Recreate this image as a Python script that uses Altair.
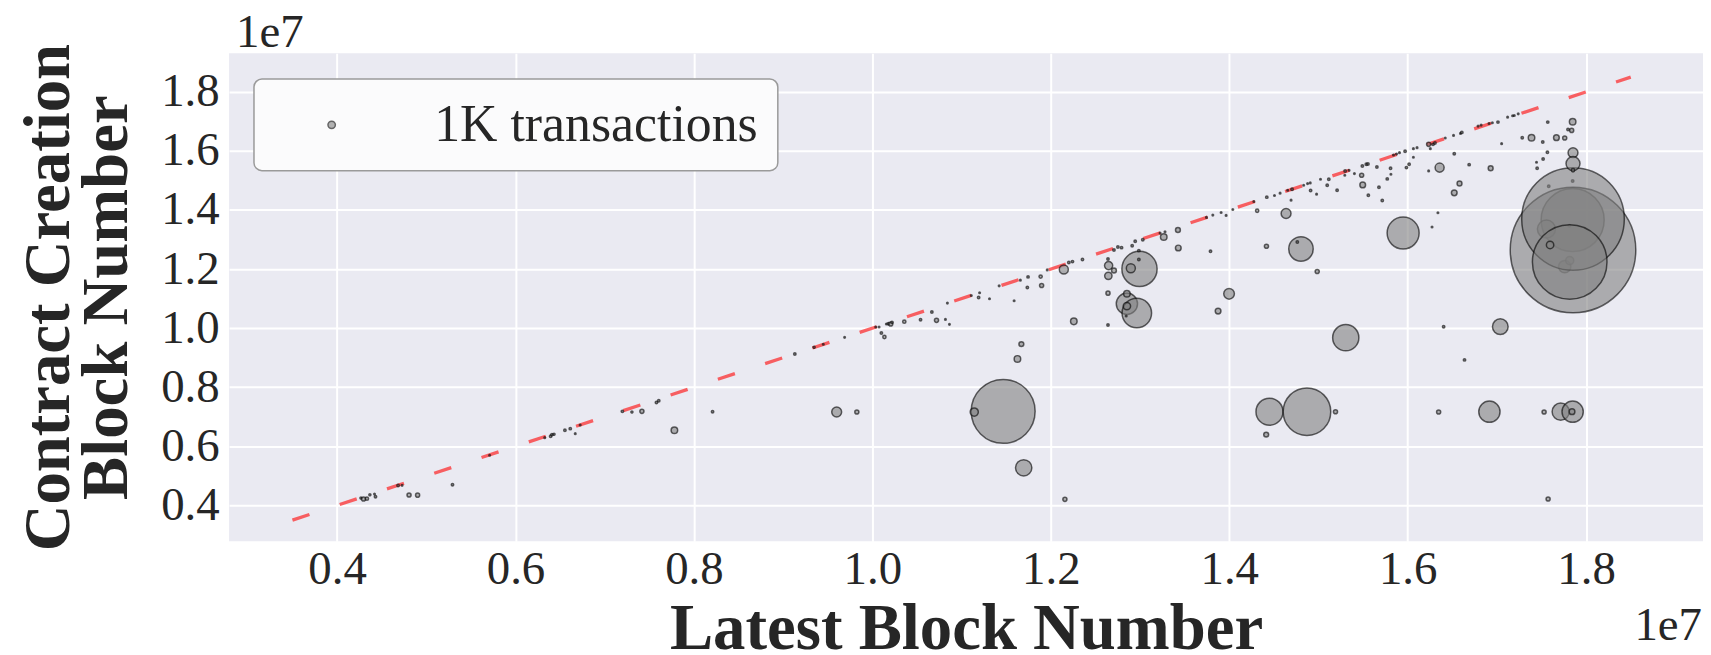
import altair as alt
import pandas as pd

# values in units of 1e7 blocks; tx in thousands of transactions
latest = [
    0.4268, 0.4297, 0.4335, 0.4368, 0.4420, 0.4431, 0.4684, 0.4729, 0.4807, 0.4903,
    0.5294, 0.5710, 0.6328, 0.6394, 0.6409, 0.6432, 0.6554, 0.6614, 0.6670, 0.6725,
    0.7198, 0.7305, 0.7417, 0.7580, 0.7606, 0.7781, 0.8209, 0.9131, 0.9347, 0.9450,
    0.9600, 0.9826, 0.9689, 1.0038, 1.0075, 1.0101, 1.0135, 1.0157, 1.0180, 1.0206,
    1.0220, 1.0358, 1.0540, 1.0667, 1.0719, 1.0819, 1.0864, 1.0841, 1.1109, 1.1191,
    1.1202, 1.1313, 1.1421, 1.1589, 1.1659, 1.1466, 1.1142, 1.1670, 1.1626, 1.1696,
    1.2158, 1.1737, 1.1745, 1.1886, 1.1897, 1.1960, 1.2146, 1.2202, 1.2243, 1.2258,
    1.2355, 1.2641, 1.2648, 1.2645, 1.2708, 1.2641, 1.2641, 1.2708, 1.2752, 1.2793,
    1.2853, 1.2964, 1.2853, 1.2853, 1.2845, 1.2994, 1.2897, 1.2912, 1.2946, 1.2987,
    1.2987, 1.3031, 1.3266, 1.3225, 1.3280, 1.3425, 1.3429, 1.3745, 1.3816, 1.3909,
    1.3965, 1.4040, 1.3790, 1.3875, 1.3998,
    1.4313, 1.4637, 1.4417, 1.4804, 1.4763, 1.4986, 1.4276, 1.4421, 1.4507, 1.4570,
    1.4693, 1.4704, 1.4655, 1.4834, 1.4878, 1.4908, 1.4912, 1.4979, 1.5023, 1.5116,
    1.5098, 1.5209, 1.5299, 1.5343, 1.5403, 1.5295, 1.5484, 1.5496, 1.5559, 1.5492,
    1.5536, 1.5555, 1.5655, 1.5678, 1.5715, 1.5771, 1.5808, 1.5812, 1.5841, 1.5875,
    1.5908, 1.5971, 1.5986, 1.6016, 1.6064, 1.6064, 1.6105, 1.5949, 1.6235, 1.6284,
    1.6306, 1.6235, 1.6254, 1.6358, 1.6339, 1.6273, 1.6421, 1.6514, 1.6592, 1.6607,
    1.6522, 1.6581, 1.6522, 1.6689, 1.6789, 1.6823, 1.6912, 1.6949, 1.7012, 1.6930,
    1.7053, 1.7120, 1.7176, 1.7195, 1.7239, 1.7284, 1.7388, 1.7514, 1.7570, 1.7566,
    1.7518, 1.7444, 1.7451, 1.7667, 1.7760, 1.7849, 1.7797, 1.7838,
    1.7849, 1.7555, 1.7760, 1.7816, 1.7812, 1.7581, 1.7849, 1.7853, 1.7853, 1.7816,
    1.7596, 1.7853, 1.7853, 1.7853,
    1.5306, 1.4451, 1.4871, 1.5191, 1.4414, 1.6403, 1.6637, 1.7038, 1.6347, 1.6916,
    1.7529, 1.7715, 1.7849, 1.7842, 1.7574,
]
creation = [
    0.4250, 0.4215, 0.4226, 0.4361, 0.4384, 0.4293, 0.4676, 0.4679, 0.4350, 0.4347,
    0.4698, 0.5699, 0.6294, 0.6340, 0.6396, 0.6407, 0.6542, 0.6598, 0.6429, 0.6722,
    0.7183, 0.7161, 0.7183, 0.7486, 0.7542, 0.6542, 0.7171, 0.9128, 0.9352, 0.9454,
    0.7160, 0.7160, 0.9690, 1.0039, 1.0039, 0.9836, 0.9701, 1.0140, 1.0151, 1.0140,
    1.0196, 1.0219, 1.0286, 1.0545, 1.0264, 1.0297, 1.0129, 1.0848, 1.1107, 1.1039,
    1.1197, 1.0994, 1.1433, 1.0927, 1.1624, 0.7183, 0.7160, 0.9460, 0.8959, 0.5272,
    0.4204, 1.1377, 1.1736, 1.1747, 1.1444, 1.1972, 1.1984, 1.2220, 1.2253, 1.0230,
    1.2321, 1.2343, 1.2119, 1.1770, 1.1950, 1.1185, 1.0106, 1.2647, 1.2748, 1.2726,
    1.0826, 1.0511, 1.1163, 1.0747, 1.0410, 1.2006, 1.2029, 1.2793, 1.2939, 1.2624,
    1.2321, 1.2995, 1.3085, 1.3220, 1.3265, 1.3321, 1.2714, 1.3749, 1.3827, 1.3917,
    1.3816, 1.4018, 1.2602, 1.0578, 1.1163,
    1.3974, 1.3884, 1.2771, 1.2681, 1.2917, 1.1916, 1.4288, 1.4435, 1.4491, 1.4570,
    1.4333, 1.4704, 1.4670, 1.4839, 1.4895, 1.4918, 1.4659, 1.4536, 1.5042, 1.5042,
    1.4839, 1.4670, 1.5323, 1.5345, 1.5233, 1.5176, 1.5176, 1.4850, 1.4502, 1.5491,
    1.5548, 1.5559, 1.5458, 1.4772, 1.4322, 1.5053, 1.5413, 1.5210, 1.5862, 1.5896,
    1.5941, 1.5986, 1.5435, 1.5548, 1.5784, 1.6076, 1.6110, 1.3220, 1.6222, 1.6222,
    1.6267, 1.5323, 1.6076, 1.5435, 1.3906, 1.3423, 1.6436, 1.6526, 1.6593, 1.6627,
    1.5907, 1.4895, 1.4581, 1.5536, 1.6840, 1.6874, 1.6930, 1.6953, 1.6975, 1.5413,
    1.6245, 1.7144, 1.7189, 1.7200, 1.7256, 1.6447, 1.6447, 1.6301, 1.6975, 1.5952,
    1.5727, 1.5615, 1.5413, 1.6447, 1.6436, 1.6986, 1.6728, 1.6694,
    1.3659, 1.3355, 1.2084, 1.2287, 1.3468, 1.4806, 1.4985, 1.2647, 1.3693, 1.2242,
    1.2816, 1.5941, 1.5570, 1.5345,
    0.9679, 0.7172, 0.7172, 0.7172, 0.6396, 1.0050, 0.8926, 1.0050, 0.7161, 0.7172,
    0.7161, 0.7172, 0.7172, 0.7172, 0.4215,
]
transactions_k = [
    0.08, 0.31, 0.20, 0.08, 0.05, 0.11, 0.11, 0.05, 0.31, 0.31,
    0.11, 0.05, 0.05, 0.11, 0.11, 0.08, 0.11, 0.11, 0.05, 0.05,
    0.11, 0.08, 0.31, 0.11, 0.11, 0.79, 0.11, 0.11, 0.08, 0.05,
    1.80, 0.31, 0.05, 0.05, 0.05, 0.11, 0.20, 0.05, 0.11, 0.31,
    0.11, 0.20, 0.11, 0.11, 0.31, 0.05, 0.05, 0.05, 0.05, 0.11,
    0.05, 0.05, 0.05, 0.05, 0.05, 75.0, 1.23, 0.44, 0.79, 4.90,
    0.31, 0.11, 0.11, 0.20, 0.31, 0.05, 1.50, 0.11, 0.11, 0.79,
    0.11, 0.11, 1.23, 1.00, 0.44, 0.31, 0.11, 0.11, 0.11, 0.11,
    8.30, 16.0, 0.79, 1.00, 0.05, 22.8, 1.50, 0.11, 0.11, 0.11,
    0.11, 0.11, 0.79, 0.05, 0.05, 0.44, 0.60, 0.05, 0.05, 0.05,
    0.05, 0.05, 0.11, 0.60, 2.10,
    0.20, 1.80, 0.31, 11.0, 0.11, 0.31, 0.05, 0.11, 0.05, 0.05,
    0.05, 0.11, 0.05, 0.05, 0.05, 0.05, 0.11, 0.05, 0.05, 0.11,
    0.11, 0.11, 0.11, 0.05, 0.05, 0.05, 0.31, 0.60, 0.11, 0.11,
    0.11, 0.11, 0.11, 0.11, 0.11, 0.11, 0.11, 0.05, 0.05, 0.05,
    0.05, 0.11, 0.11, 0.11, 0.05, 0.05, 0.05, 18.8, 0.31, 0.11,
    0.11, 0.05, 0.05, 1.50, 0.05, 0.05, 0.05, 0.05, 0.05, 0.11,
    0.11, 0.44, 0.60, 0.11, 0.05, 0.05, 0.05, 0.05, 0.11, 0.44,
    0.05, 0.05, 0.05, 0.05, 0.05, 0.11, 0.79, 0.11, 0.11, 0.11,
    0.11, 0.05, 0.11, 0.60, 0.31, 0.79, 0.11, 0.31,
    73.0, 6.00, 2.80, 1.20, 0.11, 0.11, 0.11, 289.0, 193.0, 102.0,
    1.00, 1.80, 3.60, 0.20,
    12.6, 13.4, 41.5, 0.31, 0.44, 0.11, 0.11, 4.50, 0.31, 8.30,
    0.31, 5.40, 8.30, 0.60, 0.31,
]
diag_ends = [0.35, 1.85]
tick_values = [0.4, 0.6, 0.8, 1.0, 1.2, 1.4, 1.6, 1.8]
axis_domain = [0.279, 1.931]
legend_label = "1K transactions"
multiplier = "1e7"
E7 = 1e7

df = pd.DataFrame({
    "latest": [v * E7 for v in latest],
    "creation": [v * E7 for v in creation],
    "tx": transactions_k,
    "series": legend_label,
})
line_df = pd.DataFrame({"latest": [v * E7 for v in diag_ends],
                        "creation": [v * E7 for v in diag_ends]})
mult_df = pd.DataFrame({"t": [multiplier]})

FONT = "Liberation Serif"
TXT = "#262626"
label_expr = "format(datum.value / 1e7, '.1f')"
ticks = [v * E7 for v in tick_values]
dom = [v * E7 for v in axis_domain]

xs = alt.Scale(domain=dom, nice=False, zero=False)
ys = alt.Scale(domain=dom, nice=False, zero=False)

x_axis = alt.Axis(values=ticks, labelExpr=label_expr, labelPadding=6,
                  title="Latest Block Number", titleY=108, titleBaseline="alphabetic")
y_axis = alt.Axis(values=ticks, labelExpr=label_expr, labelPadding=10,
                  title=["Contract Creation", "Block Number"], titleAngle=270,
                  titleX=-161, titleY=245, titleBaseline="alphabetic",
                  titleAlign="center", titleLineHeight=58)

diag = alt.Chart(line_df).mark_line(color="red", opacity=0.6, strokeWidth=3.3,
                                    strokeDash=[18, 32]).encode(
    x=alt.X("latest:Q", scale=xs, axis=x_axis),
    y=alt.Y("creation:Q", scale=ys, axis=y_axis),
)

pts = alt.Chart(df).mark_circle(fillOpacity=0.6, stroke="black", strokeOpacity=0.6,
                                strokeWidth=1.5).encode(
    x=alt.X("latest:Q", scale=xs, axis=x_axis),
    y=alt.Y("creation:Q", scale=ys, axis=y_axis),
    size=alt.Size("tx:Q", scale=alt.Scale(domain=[0, 300], range=[0, 16500]), legend=None),
    color=alt.Color("series:N", scale=alt.Scale(domain=[legend_label], range=["gray"]),
                    legend=alt.Legend(title=None, orient="none", legendX=25, legendY=26)),
)

mult_top = alt.Chart(mult_df).mark_text(font=FONT, fontSize=47, color=TXT, align="left",
                                        baseline="alphabetic").encode(
    text="t:N", x=alt.value(7), y=alt.value(-6))
mult_bottom = alt.Chart(mult_df).mark_text(font=FONT, fontSize=47, color=TXT, align="right",
                                           baseline="alphabetic").encode(
    text="t:N", x=alt.value(1479), y=alt.value(589))

chart = alt.layer(diag, pts, mult_top, mult_bottom).properties(
    width=1480, height=490,
    padding={"left": 222, "top": 44, "right": 0, "bottom": 112},
    autosize=alt.AutoSizeParams(type="none"),
).configure_view(fill="#EAEAF2", stroke=None).configure_axis(
    grid=True, gridColor="white", gridWidth=2, domain=False, ticks=False,
    labelFont=FONT, labelFontSize=47, labelColor=TXT,
    titleFont=FONT, titleFontSize=65, titleFontWeight="bold", titleColor=TXT,
).configure_legend(
    padding=20, cornerRadius=8, fillColor="#FBFBFC", strokeColor="#9A9A9A",
    strokeWidth=1.5, labelFont=FONT, labelFontSize=52, labelColor=TXT, labelLimit=1000,
    symbolSize=55, symbolOffset=32, labelOffset=77, symbolType="circle",
    symbolStrokeColor="black", symbolStrokeWidth=1.5, symbolOpacity=0.6,
)

chart.save("out.html", embed_options={"renderer": "svg", "actions": False})
